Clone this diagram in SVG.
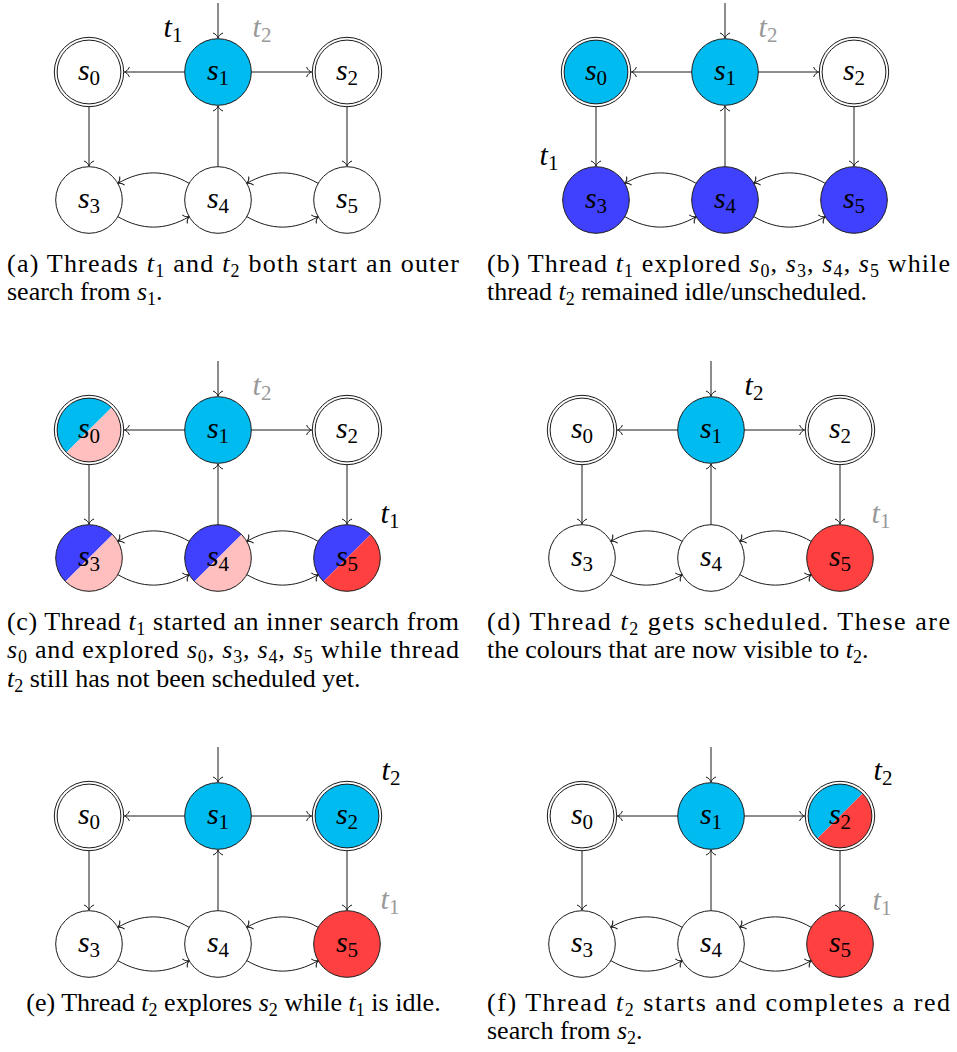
<svg xmlns="http://www.w3.org/2000/svg" width="957" height="1052" viewBox="0 0 957 1052">
  <style>
    .edges path { fill: none; stroke: #1a1a1a; stroke-width: 1; marker-end: url(#tip); }
    .st { stroke: #1a1a1a; stroke-width: 1; }
    .wh { fill: #ffffff; }
    .cy { fill: #00bbef; }
    .bl { fill: #4040ff; }
    .rd { fill: #ff4040; }
    .pk { fill: #ffbfbf; }
    .no { fill: none; }
    .nl { font-family: "Liberation Serif", serif; font-size: 30px; text-anchor: middle; fill: #000; }
    .th { font-family: "Liberation Serif", serif; font-size: 30px; text-anchor: middle; fill: #000; }
    .dim { fill: #999999; }
    .m { font-style: italic; }
    .ns { font-size: 21px; font-style: normal; }
    .cap { font-family: "Liberation Serif", serif; font-size: 26px; fill: #000; }
    .sb { font-size: 18px; font-style: normal; }
  </style>
  <defs>
    <marker id="tip" markerUnits="userSpaceOnUse" markerWidth="12" markerHeight="12" viewBox="-7 -6 8 12" refX="0" refY="0" orient="auto" overflow="visible">
      <path d="M-5,-5 C-4,-2 -1.5,-0.5 0,0 C-1.5,0.5 -4,2 -5,5" fill="none" stroke="#1a1a1a" stroke-width="1"/>
    </marker>
  </defs>

  <!-- (a) -->
  <g id="panel-a" transform="translate(89,72)">
    <g id="a-edges" class="edges">
      <path d="M129,-69 V-34"/>
      <path d="M95.7,0 H35.4"/>
      <path d="M162.3,0 H222.6"/>
      <path d="M0,34.7 V94"/>
      <path d="M258,34.7 V94"/>
      <path d="M129,94.7 V34"/>
      <path d="M100.16,111.35 C76,97.4 53,97.4 28.84,111.35"/>
      <path d="M28.84,144.65 C53,158.6 76,158.6 100.16,144.65"/>
      <path d="M229.16,111.35 C205,97.4 182,97.4 157.84,111.35"/>
      <path d="M157.84,144.65 C182,158.6 205,158.6 229.16,144.65"/>
    </g>
    <g id="a-s0"><circle r="34.7" class="st wh"/><circle r="31.9" class="st wh"/><text class="nl" y="8"><tspan class="m">s</tspan><tspan class="ns" dy="5">0</tspan></text></g>
    <g id="a-s1" transform="translate(129,0)"><circle r="33.3" class="st cy"/><text class="nl" y="8"><tspan class="m">s</tspan><tspan class="ns" dy="5">1</tspan></text></g>
    <g id="a-s2" transform="translate(258,0)"><circle r="34.7" class="st wh"/><circle r="31.9" class="st wh"/><text class="nl" y="8"><tspan class="m">s</tspan><tspan class="ns" dy="5">2</tspan></text></g>
    <g id="a-s3" transform="translate(0,128)"><circle r="33.3" class="st wh"/><text class="nl" y="8"><tspan class="m">s</tspan><tspan class="ns" dy="5">3</tspan></text></g>
    <g id="a-s4" transform="translate(129,128)"><circle r="33.3" class="st wh"/><text class="nl" y="8"><tspan class="m">s</tspan><tspan class="ns" dy="5">4</tspan></text></g>
    <g id="a-s5" transform="translate(258,128)"><circle r="33.3" class="st wh"/><text class="nl" y="8"><tspan class="m">s</tspan><tspan class="ns" dy="5">5</tspan></text></g>
    <g id="a-threads">
      <text class="th" x="84" y="-35"><tspan class="m">t</tspan><tspan class="ns" dy="5">1</tspan></text>
      <text class="th dim" x="173" y="-35"><tspan class="m">t</tspan><tspan class="ns" dy="5">2</tspan></text>
    </g>
  </g>

  <!-- (b) -->
  <g id="panel-b" transform="translate(596,72)">
    <g id="b-edges" class="edges">
      <path d="M129,-69 V-34"/>
      <path d="M95.7,0 H35.4"/>
      <path d="M162.3,0 H222.6"/>
      <path d="M0,34.7 V94"/>
      <path d="M258,34.7 V94"/>
      <path d="M129,94.7 V34"/>
      <path d="M100.16,111.35 C76,97.4 53,97.4 28.84,111.35"/>
      <path d="M28.84,144.65 C53,158.6 76,158.6 100.16,144.65"/>
      <path d="M229.16,111.35 C205,97.4 182,97.4 157.84,111.35"/>
      <path d="M157.84,144.65 C182,158.6 205,158.6 229.16,144.65"/>
    </g>
    <g id="b-s0"><circle r="34.7" class="st wh"/><circle r="31.9" class="st cy"/><text class="nl" y="8"><tspan class="m">s</tspan><tspan class="ns" dy="5">0</tspan></text></g>
    <g id="b-s1" transform="translate(129,0)"><circle r="33.3" class="st cy"/><text class="nl" y="8"><tspan class="m">s</tspan><tspan class="ns" dy="5">1</tspan></text></g>
    <g id="b-s2" transform="translate(258,0)"><circle r="34.7" class="st wh"/><circle r="31.9" class="st wh"/><text class="nl" y="8"><tspan class="m">s</tspan><tspan class="ns" dy="5">2</tspan></text></g>
    <g id="b-s3" transform="translate(0,128)"><circle r="33.3" class="st bl"/><text class="nl" y="8"><tspan class="m">s</tspan><tspan class="ns" dy="5">3</tspan></text></g>
    <g id="b-s4" transform="translate(129,128)"><circle r="33.3" class="st bl"/><text class="nl" y="8"><tspan class="m">s</tspan><tspan class="ns" dy="5">4</tspan></text></g>
    <g id="b-s5" transform="translate(258,128)"><circle r="33.3" class="st bl"/><text class="nl" y="8"><tspan class="m">s</tspan><tspan class="ns" dy="5">5</tspan></text></g>
    <g id="b-threads">
      <text class="th" x="-47" y="93"><tspan class="m">t</tspan><tspan class="ns" dy="5">1</tspan></text>
      <text class="th dim" x="172" y="-35"><tspan class="m">t</tspan><tspan class="ns" dy="5">2</tspan></text>
    </g>
  </g>

  <!-- (c) -->
  <g id="panel-c" transform="translate(89,430)">
    <g id="c-edges" class="edges">
      <path d="M129,-69 V-34"/>
      <path d="M95.7,0 H35.4"/>
      <path d="M162.3,0 H222.6"/>
      <path d="M0,34.7 V94"/>
      <path d="M258,34.7 V94"/>
      <path d="M129,94.7 V34"/>
      <path d="M100.16,111.35 C76,97.4 53,97.4 28.84,111.35"/>
      <path d="M28.84,144.65 C53,158.6 76,158.6 100.16,144.65"/>
      <path d="M229.16,111.35 C205,97.4 182,97.4 157.84,111.35"/>
      <path d="M157.84,144.65 C182,158.6 205,158.6 229.16,144.65"/>
    </g>
    <g id="c-s0"><circle r="34.7" class="st wh"/><path class="cy" d="M22.56,-22.56 A31.9,31.9 0 0 0 -22.56,22.56 Z"/><path class="pk" d="M22.56,-22.56 A31.9,31.9 0 0 1 -22.56,22.56 Z"/><circle r="31.9" class="st no"/><text class="nl" y="8"><tspan class="m">s</tspan><tspan class="ns" dy="5">0</tspan></text></g>
    <g id="c-s1" transform="translate(129,0)"><circle r="33.3" class="st cy"/><text class="nl" y="8"><tspan class="m">s</tspan><tspan class="ns" dy="5">1</tspan></text></g>
    <g id="c-s2" transform="translate(258,0)"><circle r="34.7" class="st wh"/><circle r="31.9" class="st wh"/><text class="nl" y="8"><tspan class="m">s</tspan><tspan class="ns" dy="5">2</tspan></text></g>
    <g id="c-s3" transform="translate(0,128)"><path class="bl" d="M23.55,-23.55 A33.3,33.3 0 0 0 -23.55,23.55 Z"/><path class="pk" d="M23.55,-23.55 A33.3,33.3 0 0 1 -23.55,23.55 Z"/><circle r="33.3" class="st no"/><text class="nl" y="8"><tspan class="m">s</tspan><tspan class="ns" dy="5">3</tspan></text></g>
    <g id="c-s4" transform="translate(129,128)"><path class="bl" d="M23.55,-23.55 A33.3,33.3 0 0 0 -23.55,23.55 Z"/><path class="pk" d="M23.55,-23.55 A33.3,33.3 0 0 1 -23.55,23.55 Z"/><circle r="33.3" class="st no"/><text class="nl" y="8"><tspan class="m">s</tspan><tspan class="ns" dy="5">4</tspan></text></g>
    <g id="c-s5" transform="translate(258,128)"><path class="bl" d="M23.55,-23.55 A33.3,33.3 0 0 0 -23.55,23.55 Z"/><path class="rd" d="M23.55,-23.55 A33.3,33.3 0 0 1 -23.55,23.55 Z"/><circle r="33.3" class="st no"/><text class="nl" y="8"><tspan class="m">s</tspan><tspan class="ns" dy="5">5</tspan></text></g>
    <g id="c-threads">
      <text class="th dim" x="173" y="-35"><tspan class="m">t</tspan><tspan class="ns" dy="5">2</tspan></text>
      <text class="th" x="301" y="93"><tspan class="m">t</tspan><tspan class="ns" dy="5">1</tspan></text>
    </g>
  </g>

  <!-- (d) -->
  <g id="panel-d" transform="translate(582,430)">
    <g id="d-edges" class="edges">
      <path d="M129,-69 V-34"/>
      <path d="M95.7,0 H35.4"/>
      <path d="M162.3,0 H222.6"/>
      <path d="M0,34.7 V94"/>
      <path d="M258,34.7 V94"/>
      <path d="M129,94.7 V34"/>
      <path d="M100.16,111.35 C76,97.4 53,97.4 28.84,111.35"/>
      <path d="M28.84,144.65 C53,158.6 76,158.6 100.16,144.65"/>
      <path d="M229.16,111.35 C205,97.4 182,97.4 157.84,111.35"/>
      <path d="M157.84,144.65 C182,158.6 205,158.6 229.16,144.65"/>
    </g>
    <g id="d-s0"><circle r="34.7" class="st wh"/><circle r="31.9" class="st wh"/><text class="nl" y="8"><tspan class="m">s</tspan><tspan class="ns" dy="5">0</tspan></text></g>
    <g id="d-s1" transform="translate(129,0)"><circle r="33.3" class="st cy"/><text class="nl" y="8"><tspan class="m">s</tspan><tspan class="ns" dy="5">1</tspan></text></g>
    <g id="d-s2" transform="translate(258,0)"><circle r="34.7" class="st wh"/><circle r="31.9" class="st wh"/><text class="nl" y="8"><tspan class="m">s</tspan><tspan class="ns" dy="5">2</tspan></text></g>
    <g id="d-s3" transform="translate(0,128)"><circle r="33.3" class="st wh"/><text class="nl" y="8"><tspan class="m">s</tspan><tspan class="ns" dy="5">3</tspan></text></g>
    <g id="d-s4" transform="translate(129,128)"><circle r="33.3" class="st wh"/><text class="nl" y="8"><tspan class="m">s</tspan><tspan class="ns" dy="5">4</tspan></text></g>
    <g id="d-s5" transform="translate(258,128)"><circle r="33.3" class="st rd"/><text class="nl" y="8"><tspan class="m">s</tspan><tspan class="ns" dy="5">5</tspan></text></g>
    <g id="d-threads">
      <text class="th" x="172" y="-35"><tspan class="m">t</tspan><tspan class="ns" dy="5">2</tspan></text>
      <text class="th dim" x="299" y="93"><tspan class="m">t</tspan><tspan class="ns" dy="5">1</tspan></text>
    </g>
  </g>

  <!-- (e) -->
  <g id="panel-e" transform="translate(89,816)">
    <g id="e-edges" class="edges">
      <path d="M129,-69 V-34"/>
      <path d="M95.7,0 H35.4"/>
      <path d="M162.3,0 H222.6"/>
      <path d="M0,34.7 V94"/>
      <path d="M258,34.7 V94"/>
      <path d="M129,94.7 V34"/>
      <path d="M100.16,111.35 C76,97.4 53,97.4 28.84,111.35"/>
      <path d="M28.84,144.65 C53,158.6 76,158.6 100.16,144.65"/>
      <path d="M229.16,111.35 C205,97.4 182,97.4 157.84,111.35"/>
      <path d="M157.84,144.65 C182,158.6 205,158.6 229.16,144.65"/>
    </g>
    <g id="e-s0"><circle r="34.7" class="st wh"/><circle r="31.9" class="st wh"/><text class="nl" y="8"><tspan class="m">s</tspan><tspan class="ns" dy="5">0</tspan></text></g>
    <g id="e-s1" transform="translate(129,0)"><circle r="33.3" class="st cy"/><text class="nl" y="8"><tspan class="m">s</tspan><tspan class="ns" dy="5">1</tspan></text></g>
    <g id="e-s2" transform="translate(258,0)"><circle r="34.7" class="st wh"/><circle r="31.9" class="st cy"/><text class="nl" y="8"><tspan class="m">s</tspan><tspan class="ns" dy="5">2</tspan></text></g>
    <g id="e-s3" transform="translate(0,128)"><circle r="33.3" class="st wh"/><text class="nl" y="8"><tspan class="m">s</tspan><tspan class="ns" dy="5">3</tspan></text></g>
    <g id="e-s4" transform="translate(129,128)"><circle r="33.3" class="st wh"/><text class="nl" y="8"><tspan class="m">s</tspan><tspan class="ns" dy="5">4</tspan></text></g>
    <g id="e-s5" transform="translate(258,128)"><circle r="33.3" class="st rd"/><text class="nl" y="8"><tspan class="m">s</tspan><tspan class="ns" dy="5">5</tspan></text></g>
    <g id="e-threads">
      <text class="th" x="302" y="-36"><tspan class="m">t</tspan><tspan class="ns" dy="5">2</tspan></text>
      <text class="th dim" x="301" y="93"><tspan class="m">t</tspan><tspan class="ns" dy="5">1</tspan></text>
    </g>
  </g>

  <!-- (f) -->
  <g id="panel-f" transform="translate(582,816)">
    <g id="f-edges" class="edges">
      <path d="M129,-69 V-34"/>
      <path d="M95.7,0 H35.4"/>
      <path d="M162.3,0 H222.6"/>
      <path d="M0,34.7 V94"/>
      <path d="M258,34.7 V94"/>
      <path d="M129,94.7 V34"/>
      <path d="M100.16,111.35 C76,97.4 53,97.4 28.84,111.35"/>
      <path d="M28.84,144.65 C53,158.6 76,158.6 100.16,144.65"/>
      <path d="M229.16,111.35 C205,97.4 182,97.4 157.84,111.35"/>
      <path d="M157.84,144.65 C182,158.6 205,158.6 229.16,144.65"/>
    </g>
    <g id="f-s0"><circle r="34.7" class="st wh"/><circle r="31.9" class="st wh"/><text class="nl" y="8"><tspan class="m">s</tspan><tspan class="ns" dy="5">0</tspan></text></g>
    <g id="f-s1" transform="translate(129,0)"><circle r="33.3" class="st cy"/><text class="nl" y="8"><tspan class="m">s</tspan><tspan class="ns" dy="5">1</tspan></text></g>
    <g id="f-s2" transform="translate(258,0)"><circle r="34.7" class="st wh"/><path class="cy" d="M22.56,-22.56 A31.9,31.9 0 0 0 -22.56,22.56 Z"/><path class="rd" d="M22.56,-22.56 A31.9,31.9 0 0 1 -22.56,22.56 Z"/><circle r="31.9" class="st no"/><text class="nl" y="8"><tspan class="m">s</tspan><tspan class="ns" dy="5">2</tspan></text></g>
    <g id="f-s3" transform="translate(0,128)"><circle r="33.3" class="st wh"/><text class="nl" y="8"><tspan class="m">s</tspan><tspan class="ns" dy="5">3</tspan></text></g>
    <g id="f-s4" transform="translate(129,128)"><circle r="33.3" class="st wh"/><text class="nl" y="8"><tspan class="m">s</tspan><tspan class="ns" dy="5">4</tspan></text></g>
    <g id="f-s5" transform="translate(258,128)"><circle r="33.3" class="st rd"/><text class="nl" y="8"><tspan class="m">s</tspan><tspan class="ns" dy="5">5</tspan></text></g>
    <g id="f-threads">
      <text class="th" x="301" y="-36"><tspan class="m">t</tspan><tspan class="ns" dy="5">2</tspan></text>
      <text class="th dim" x="300" y="94"><tspan class="m">t</tspan><tspan class="ns" dy="5">1</tspan></text>
    </g>
  </g>

  <!-- captions -->
  <g id="captions">
    <text class="cap" x="7" y="271.5" textLength="452" lengthAdjust="spacing">(a) Threads <tspan class="m">t</tspan><tspan class="sb" dy="5">1</tspan><tspan dy="-5"> and </tspan><tspan class="m">t</tspan><tspan class="sb" dy="5">2</tspan><tspan dy="-5"> both start an outer</tspan></text>
    <text class="cap" x="7" y="300">search from <tspan class="m">s</tspan><tspan class="sb" dy="5">1</tspan><tspan dy="-5">.</tspan></text>

    <text class="cap" x="487" y="271.5" textLength="463" lengthAdjust="spacing">(b) Thread <tspan class="m">t</tspan><tspan class="sb" dy="5">1</tspan><tspan dy="-5"> explored </tspan><tspan class="m">s</tspan><tspan class="sb" dy="5">0</tspan><tspan dy="-5">, </tspan><tspan class="m">s</tspan><tspan class="sb" dy="5">3</tspan><tspan dy="-5">, </tspan><tspan class="m">s</tspan><tspan class="sb" dy="5">4</tspan><tspan dy="-5">, </tspan><tspan class="m">s</tspan><tspan class="sb" dy="5">5</tspan><tspan dy="-5"> while</tspan></text>
    <text class="cap" x="487" y="300">thread <tspan class="m">t</tspan><tspan class="sb" dy="5">2</tspan><tspan dy="-5"> remained idle/unscheduled.</tspan></text>

    <text class="cap" x="7" y="629.5" textLength="452" lengthAdjust="spacing">(c) Thread <tspan class="m">t</tspan><tspan class="sb" dy="5">1</tspan><tspan dy="-5"> started an inner search from</tspan></text>
    <text class="cap" x="7" y="658" textLength="452" lengthAdjust="spacing"><tspan class="m">s</tspan><tspan class="sb" dy="5">0</tspan><tspan dy="-5"> and explored </tspan><tspan class="m">s</tspan><tspan class="sb" dy="5">0</tspan><tspan dy="-5">, </tspan><tspan class="m">s</tspan><tspan class="sb" dy="5">3</tspan><tspan dy="-5">, </tspan><tspan class="m">s</tspan><tspan class="sb" dy="5">4</tspan><tspan dy="-5">, </tspan><tspan class="m">s</tspan><tspan class="sb" dy="5">5</tspan><tspan dy="-5"> while thread</tspan></text>
    <text class="cap" x="7" y="686.5"><tspan class="m">t</tspan><tspan class="sb" dy="5">2</tspan><tspan dy="-5"> still has not been scheduled yet.</tspan></text>

    <text class="cap" x="487" y="629.5" textLength="463" lengthAdjust="spacing">(d) Thread <tspan class="m">t</tspan><tspan class="sb" dy="5">2</tspan><tspan dy="-5"> gets scheduled.  These are</tspan></text>
    <text class="cap" x="487" y="658">the colours that are now visible to <tspan class="m">t</tspan><tspan class="sb" dy="5">2</tspan><tspan dy="-5">.</tspan></text>

    <text class="cap" x="233.5" y="1010.5" text-anchor="middle">(e) Thread <tspan class="m">t</tspan><tspan class="sb" dy="5">2</tspan><tspan dy="-5"> explores </tspan><tspan class="m">s</tspan><tspan class="sb" dy="5">2</tspan><tspan dy="-5"> while </tspan><tspan class="m">t</tspan><tspan class="sb" dy="5">1</tspan><tspan dy="-5"> is idle.</tspan></text>

    <text class="cap" x="487" y="1010.5" textLength="463" lengthAdjust="spacing">(f) Thread <tspan class="m">t</tspan><tspan class="sb" dy="5">2</tspan><tspan dy="-5"> starts and completes a red</tspan></text>
    <text class="cap" x="487" y="1039">search from <tspan class="m">s</tspan><tspan class="sb" dy="5">2</tspan><tspan dy="-5">.</tspan></text>
  </g>
</svg>
